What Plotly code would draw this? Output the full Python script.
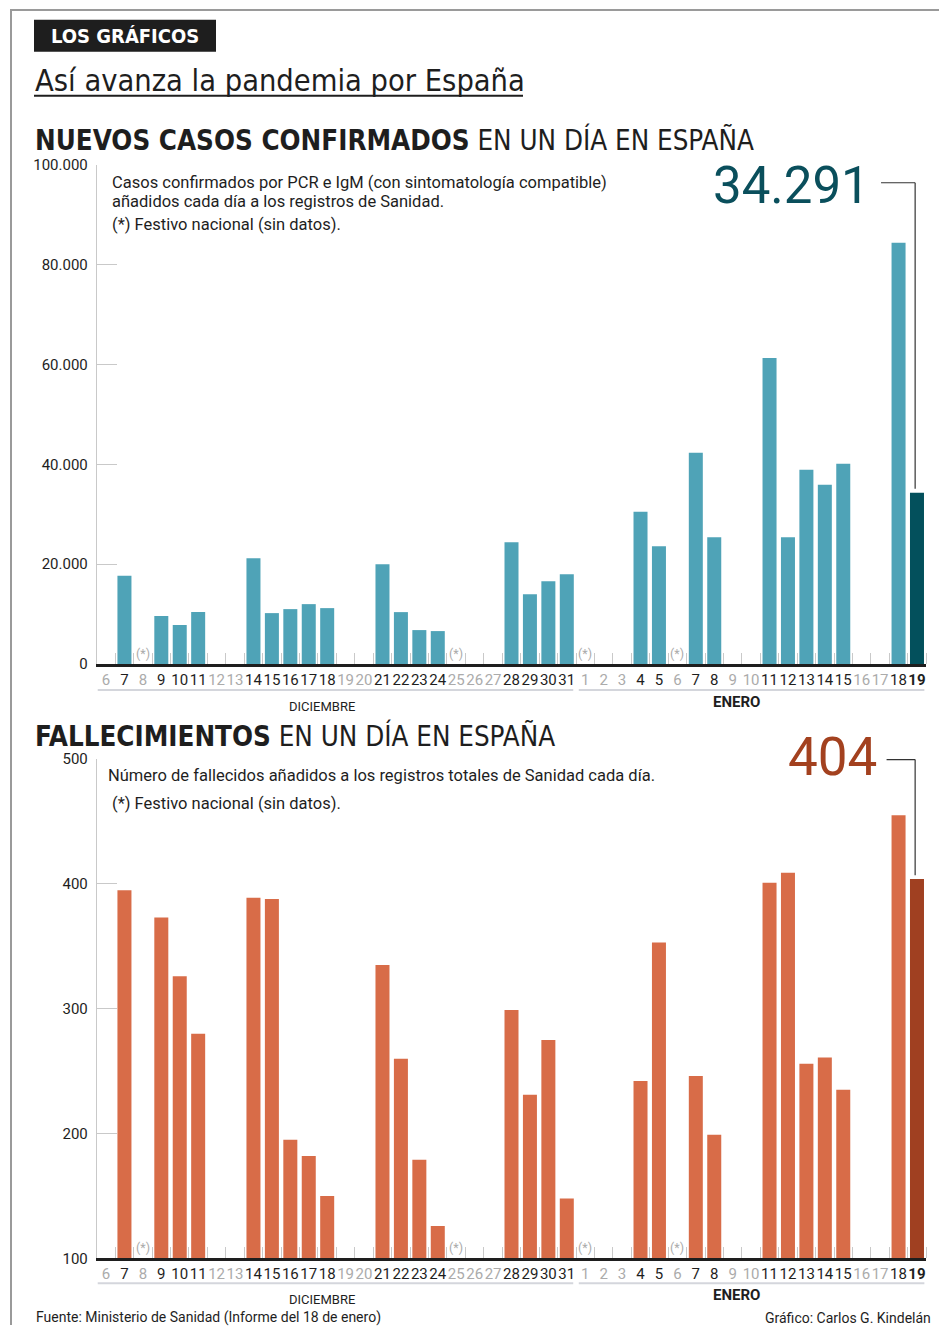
import plotly.graph_objects as go

W, H = 939, 1334

# ---------------- data ----------------
dias_dic = ["6", "7", "8", "9", "10", "11", "12", "13", "14", "15", "16", "17", "18",
            "19", "20", "21", "22", "23", "24", "25", "26", "27", "28", "29", "30", "31"]
dias_ene = ["1", "2", "3", "4", "5", "6", "7", "8", "9", "10", "11", "12", "13", "14",
            "15", "16", "17", "18", "19"]

casos_dic = [None, 17700, None, 9600, 7800, 10400, None, None, 21200, 10200, 11000, 12000,
             11200, None, None, 20000, 10400, 6800, 6600, None, None, None, 24400, 14000,
             16600, 18000]
casos_ene = [None, None, None, 30500, 23600, None, 42300, 25400, None, None, 61300, 25400,
             38900, 35900, 40100, None, None, 84400, 34291]

fallecidos_dic = [None, 395, None, 373, 326, 280, None, None, 389, 388, 195, 182, 150,
                  None, None, 335, 260, 179, 126, None, None, None, 299, 231, 275, 148]
fallecidos_ene = [None, None, None, 242, 353, None, 246, 199, None, None, 401, 409, 256,
                  261, 235, None, None, 455, 404]

festivos = [("dic", "8"), ("dic", "25"), ("ene", "1"), ("ene", "6")]

ticks_casos = [0, 20000, 40000, 60000, 80000, 100000]
ticks_fallecidos = [100, 200, 300, 400, 500]

# ---------------- styling ----------------
C_CASOS, C_CASOS_HOY, C_CASOS_TXT = "#4fa3b7", "#03505c", "#0a4f5c"
C_FALL, C_FALL_HOY, C_FALL_TXT = "#d86c48", "#a04021", "#a3411f"
DARK, GREY, LIGHT = "#1e1e1e", "#ababab", "#c9c9c9"
F_BODY = "Roboto, Inter, sans-serif"
F_COND = "DejaVu Sans Condensed, Roboto, sans-serif"

# the photographed page shows the figure slightly squeezed vertically; compensate
OFF, SC = 9.3, 0.986


def X(px):
    return px / W


def Y(py):
    return 1 - ((py - OFF) / SC) / H


etiquetas = [("dic", d) for d in dias_dic] + [("ene", d) for d in dias_ene]
casos = casos_dic + casos_ene
fallecidos = fallecidos_dic + fallecidos_ene
xs = list(range(len(etiquetas)))
n = len(xs)
ultimo = n - 1

ticktext = []
for i, (m, d) in enumerate(etiquetas):
    if i == ultimo:
        ticktext.append(f"<b>{d}</b>")
    elif casos[i] is not None:
        ticktext.append(f"<span style='color:{DARK}'>{d}</span>")
    else:
        ticktext.append(f"<span style='color:{GREY}'>{d}</span>")

fig = go.Figure()
fig.add_trace(go.Bar(x=xs, y=casos, width=0.76, xaxis="x", yaxis="y",
                     marker=dict(color=[C_CASOS_HOY if i == ultimo else C_CASOS for i in xs],
                                 line=dict(width=0)), hoverinfo="skip"))
fig.add_trace(go.Bar(x=xs, y=fallecidos, width=0.76, xaxis="x2", yaxis="y2",
                     marker=dict(color=[C_FALL_HOY if i == ultimo else C_FALL for i in xs],
                                 line=dict(width=0)), hoverinfo="skip"))

xdom = [X(96.8), X(926.2)]
xcommon = dict(domain=xdom, range=[-0.5, n - 0.5], tickmode="array", tickvals=xs,
               ticktext=ticktext, ticks="", tickangle=0, showgrid=False, zeroline=False,
               showline=True, linecolor=DARK, linewidth=3,
               tickfont=dict(family=F_BODY, size=15, color=DARK),
               minor=dict(tick0=-0.5, dtick=1, ticks="inside", ticklen=11,
                          tickcolor=LIGHT, tickwidth=1, showgrid=False),
               fixedrange=True)
ycommon = dict(tickmode="array", ticks="inside", ticklen=20, tickcolor=LIGHT,
               tickwidth=1, showgrid=False, zeroline=False, showline=True,
               linecolor=LIGHT, linewidth=1, tickformat=",d",
               tickfont=dict(family=F_BODY, size=15, color=DARK), ticklabelstandoff=5,
               fixedrange=True)

fig.update_layout(
    width=W, height=H, margin=dict(l=0, r=0, t=0, b=0),
    paper_bgcolor="white", plot_bgcolor="white", showlegend=False,
    separators=",.", bargap=0.24,
    xaxis=dict(anchor="y", **xcommon),
    yaxis=dict(anchor="x", domain=[Y(664), Y(165)], range=[0, 100000],
               tickvals=ticks_casos, **ycommon),
    xaxis2=dict(anchor="y2", **xcommon),
    yaxis2=dict(anchor="x2", domain=[Y(1258), Y(759)], range=[100, 500],
                tickvals=ticks_fallecidos, **ycommon),
)

ann = []
shapes = []

# page border
shapes.append(dict(type="line", xref="paper", yref="paper", x0=X(11), x1=X(11), y0=0, y1=1,
                   line=dict(color="#9a9a9a", width=2)))
shapes.append(dict(type="line", xref="paper", yref="paper", x0=X(11), x1=1, y0=1 - 1 / H, y1=1 - 1 / H,
                   line=dict(color="#9a9a9a", width=2)))

# header
shapes.append(dict(type="rect", xref="paper", yref="paper", x0=X(34), x1=X(216), y0=Y(52), y1=Y(20),
                   fillcolor="#1e1e1e", line=dict(width=0)))
ann.append(dict(text="<b>LOS GRÁFICOS</b>", x=X(125), y=Y(36.5), xanchor="center", yanchor="middle",
                font=dict(family=F_COND, size=20, color="white")))
ann.append(dict(text="Así avanza la pandemia por España", x=X(33), y=Y(81), xanchor="left",
                yanchor="middle", font=dict(family=F_COND, size=30.5, color=DARK)))
shapes.append(dict(type="line", xref="paper", yref="paper", x0=X(34), x1=X(523), y0=Y(96), y1=Y(96),
                   line=dict(color=DARK, width=2)))

# chart titles
ann.append(dict(text="<b>NUEVOS CASOS CONFIRMADOS</b> EN UN DÍA EN ESPAÑA", x=X(33), y=Y(140),
                xanchor="left", yanchor="middle", font=dict(family=F_COND, size=27.5, color=DARK)))
ann.append(dict(text="<b>FALLECIMIENTOS</b> EN UN DÍA EN ESPAÑA", x=X(33), y=Y(735),
                xanchor="left", yanchor="middle", font=dict(family=F_COND, size=27.5, color=DARK)))

# descriptions
for txt, xp, yp in [
    ("Casos confirmados por PCR e IgM (con sintomatología compatible)", 110, 183),
    ("añadidos cada día a los registros de Sanidad.", 110, 202),
    ("(*) Festivo nacional (sin datos).", 110, 225),
    ("Número de fallecidos añadidos a los registros totales de Sanidad cada día.", 106, 775),
    ("(*) Festivo nacional (sin datos).", 110, 803),
]:
    ann.append(dict(text=txt, x=X(xp), y=Y(yp), xanchor="left", yanchor="middle",
                    font=dict(family=F_BODY, size=16.5, color=DARK)))

# big numbers with leader lines
v_casos = casos[ultimo]
v_fall = fallecidos[ultimo]
ann.append(dict(text=f"{v_casos:,}".replace(",", "."), x=X(872), y=Y(186), xanchor="right",
                yanchor="middle", font=dict(family=F_BODY, size=51, color=C_CASOS_TXT)))
ann.append(dict(text=f"{v_fall}", x=X(879), y=Y(757), xanchor="right",
                yanchor="middle", font=dict(family=F_BODY, size=53, color=C_FALL_TXT)))
y_lead1 = 96400
shapes.append(dict(type="line", xref="x", yref="y", x0=ultimo - 1.95, x1=ultimo - 0.1,
                   y0=y_lead1, y1=y_lead1, line=dict(color="#333", width=1.2)))
shapes.append(dict(type="line", xref="x", yref="y", x0=ultimo - 0.1, x1=ultimo - 0.1,
                   y0=y_lead1, y1=v_casos + 800, line=dict(color="#333", width=1.2)))
y_lead2 = 499.6
shapes.append(dict(type="line", xref="x2", yref="y2", x0=ultimo - 1.65, x1=ultimo - 0.1,
                   y0=y_lead2, y1=y_lead2, line=dict(color="#333", width=1.2)))
shapes.append(dict(type="line", xref="x2", yref="y2", x0=ultimo - 0.1, x1=ultimo - 0.1,
                   y0=y_lead2, y1=v_fall + 3, line=dict(color="#333", width=1.2)))

# holidays, month separators & labels
n_dic = len(dias_dic)
for xr, yr, base, sep_y, mes_y in [("x", "y", 0, 690, 706), ("x2", "y2", 100, 1283, 1299)]:
    for m, d in festivos:
        i = etiquetas.index((m, d))
        ann.append(dict(text="(*)", xref=xr, yref=yr, x=i, y=base, xanchor="center",
                        yanchor="bottom", yshift=1, font=dict(family=F_BODY, size=12.5, color=GREY)))
    shapes.append(dict(type="line", xref=xr, yref="paper", x0=-0.45, x1=n_dic - 0.5 - 0.15,
                       y0=Y(sep_y), y1=Y(sep_y), line=dict(color="#d4d6dc", width=2)))
    shapes.append(dict(type="line", xref=xr, yref="paper", x0=n_dic - 0.5 + 0.15, x1=n - 0.6,
                       y0=Y(sep_y), y1=Y(sep_y), line=dict(color="#d4d6dc", width=2)))
    ann.append(dict(text="DICIEMBRE", xref=xr, yref="paper", x=11.7, y=Y(mes_y), xanchor="center",
                    yanchor="middle", font=dict(family=F_BODY, size=13, color=DARK)))
    ann.append(dict(text="<b>ENERO</b>", xref=xr, yref="paper", x=34.2, y=Y(mes_y - 4),
                    xanchor="center", yanchor="middle", font=dict(family=F_BODY, size=15, color=DARK)))

# footer (kept inside the figure's lower edge)
ann.append(dict(text="Fuente: Ministerio de Sanidad (Informe del 18 de enero)", x=X(34), y=0,
                xanchor="left", yanchor="bottom", yshift=-3,
                font=dict(family=F_BODY, size=14, color=DARK)))
ann.append(dict(text="Gráfico: Carlos G. Kindelán", x=X(933), y=0,
                xanchor="right", yanchor="bottom", yshift=-3,
                font=dict(family=F_BODY, size=14, color=DARK)))

for a in ann:
    a.setdefault("xref", "paper")
    a.setdefault("yref", "paper")
    a["showarrow"] = False
fig.update_layout(annotations=ann, shapes=shapes)

fig.write_html(
    "out.html", config={"displayModeBar": False},
    post_script=("var d=document.getElementById('{plot_id}');"
                 "d.style.position='fixed';d.style.top='0';d.style.left='0';"
                 "document.body.style.margin='0';document.body.style.overflow='hidden';"
                 "document.documentElement.style.overflow='hidden';"))
